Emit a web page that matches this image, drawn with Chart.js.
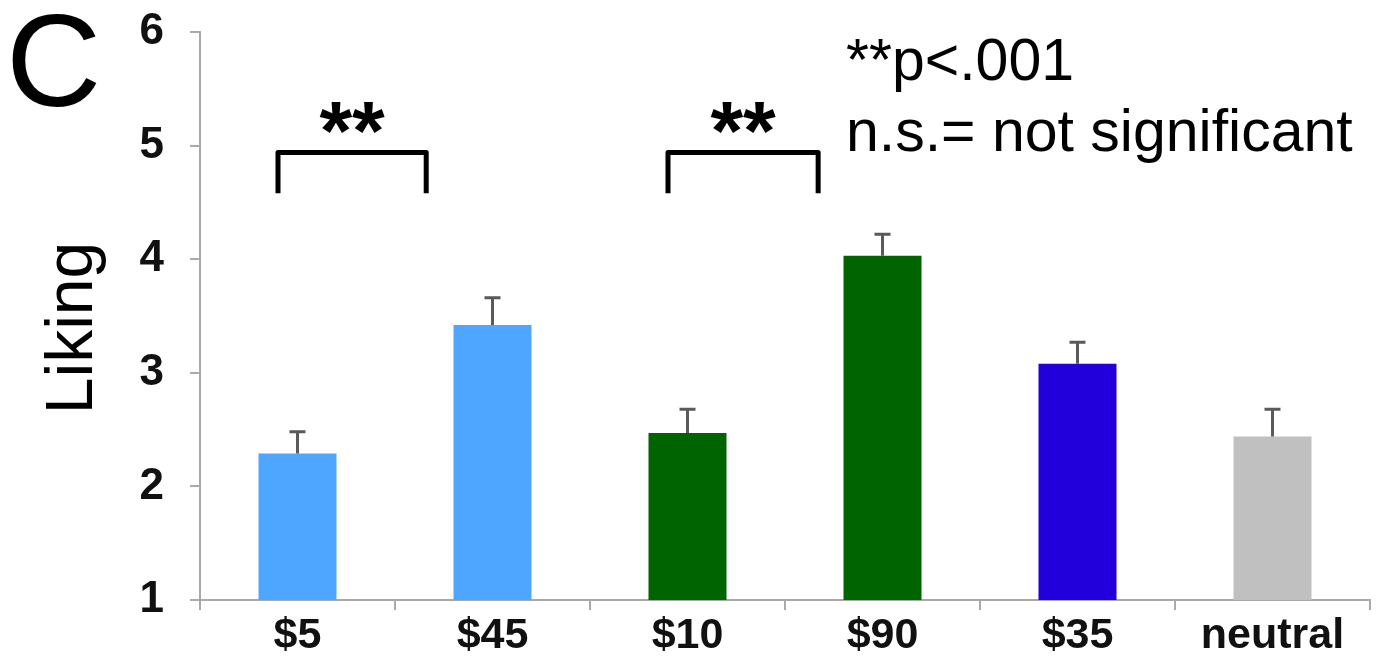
<!DOCTYPE html>
<html>
<head>
<meta charset="utf-8">
<script src="https://cdn.jsdelivr.net/npm/chart.js@4.4.1/dist/chart.umd.min.js"></script>
<style>
  html, body { margin: 0; padding: 0; background: #fff; }
  #wrap { width: 1394px; height: 656px; position: relative; }
</style>
</head>
<body>
<div id="wrap"><canvas id="likingChart" width="1394" height="656"></canvas></div>
<script>
// data
const categories = ['$5', '$45', '$10', '$90', '$35', 'neutral'];
const liking = [2.29, 3.42, 2.47, 4.03, 3.08, 2.44];
const errors = [0.19, 0.24, 0.21, 0.19, 0.19, 0.24];
const barColors = ['#4fa6ff', '#4fa6ff', '#006400', '#006400', '#2200dc', '#c0c0c0'];
const yTicks = [1, 2, 3, 4, 5, 6];

// significance brackets, in category units
const brackets = [
    { from: -0.1, to: 0.66, top: 4.94, bottom: 4.58, label: '**' },
    { from: 1.9, to: 2.67, top: 4.94, bottom: 4.58, label: '**' }
];
const noteLines = ['**p<.001', 'n.s.= not significant'];

const FONT = '"Liberation Sans", Arial, sans-serif';

const errorBars = {
    id: 'errorBars',
    afterDatasetsDraw(chart) {
        const ctx = chart.ctx;
        const y = chart.scales.y;
        const meta = chart.getDatasetMeta(0);
        ctx.save();
        ctx.strokeStyle = '#5a5a5a';
        ctx.lineWidth = 3;
        meta.data.forEach((bar, i) => {
            const top = y.getPixelForValue(liking[i] + errors[i]);
            ctx.beginPath();
            ctx.moveTo(bar.x, bar.y);
            ctx.lineTo(bar.x, top);
            ctx.moveTo(bar.x - 8, top);
            ctx.lineTo(bar.x + 8, top);
            ctx.stroke();
        });
        ctx.restore();
    }
};

const annotations = {
    id: 'annotations',
    afterDraw(chart) {
        const ctx = chart.ctx;
        const x = chart.scales.x;
        const y = chart.scales.y;
        ctx.save();
        ctx.fillStyle = '#000';
        ctx.strokeStyle = '#000';

        // brackets with stars
        ctx.lineWidth = 5;
        ctx.lineJoin = 'round';
        brackets.forEach(b => {
            const x1 = x.getPixelForValue(b.from);
            const x2 = x.getPixelForValue(b.to);
            const yt = y.getPixelForValue(b.top);
            const yb = y.getPixelForValue(b.bottom);
            ctx.beginPath();
            ctx.moveTo(x1, yb);
            ctx.lineTo(x1, yt);
            ctx.lineTo(x2, yt);
            ctx.lineTo(x2, yb);
            ctx.stroke();
            ctx.font = 'bold 84px ' + FONT;
            ctx.textAlign = 'center';
            ctx.textBaseline = 'alphabetic';
            ctx.fillText(b.label, (x1 + x2) / 2, yt + 8);
        });

        // panel letter
        ctx.font = '132px ' + FONT;
        ctx.textAlign = 'left';
        ctx.fillText('C', 6, 106);

        // y axis title
        ctx.font = '66px ' + FONT;
        ctx.save();
        ctx.translate(92, 328);
        ctx.rotate(-Math.PI / 2);
        ctx.textAlign = 'center';
        ctx.fillText('Liking', 0, 0);
        ctx.restore();

        // note
        ctx.font = '59px ' + FONT;
        ctx.textAlign = 'left';
        ctx.fillText(noteLines[0], 846, 80);
        ctx.fillText(noteLines[1], 846, 151);
        ctx.restore();
    }
};

const ctx = document.getElementById('likingChart').getContext('2d');
new Chart(ctx, {
    type: 'bar',
    data: {
        labels: categories,
        datasets: [{
            data: liking,
            backgroundColor: barColors,
            borderWidth: 0,
            barPercentage: 0.4,
            categoryPercentage: 1.0
        }]
    },
    options: {
        responsive: false,
        animation: false,
        devicePixelRatio: 1,
        layout: { padding: { top: 32, right: 24, left: 0, bottom: 0 } },
        plugins: {
            legend: { display: false },
            tooltip: { enabled: false }
        },
        scales: {
            x: {
                grid: { offset: true, drawOnChartArea: false, tickLength: 10, color: '#aaaaaa', lineWidth: 2 },
                border: { color: '#aaaaaa', width: 2 },
                ticks: { font: { family: FONT, size: 43, weight: 'bold' }, color: '#111', padding: 0 },
                afterFit(scale) { scale.height = 56; }
            },
            y: {
                min: 1,
                max: 6,
                afterBuildTicks(scale) { scale.ticks = yTicks.map(v => ({ value: v })); },
                grid: { drawOnChartArea: false, tickLength: 10, color: '#aaaaaa', lineWidth: 2 },
                border: { color: '#aaaaaa', width: 2 },
                ticks: { font: { family: FONT, size: 44, weight: 'bold' }, color: '#111', padding: 26 },
                afterFit(scale) {
                    scale.width = 200;
                    scale.paddingTop = 0;
                    scale.paddingBottom = 0;
                }
            }
        }
    },
    plugins: [errorBars, annotations]
});
</script>
</body>
</html>
